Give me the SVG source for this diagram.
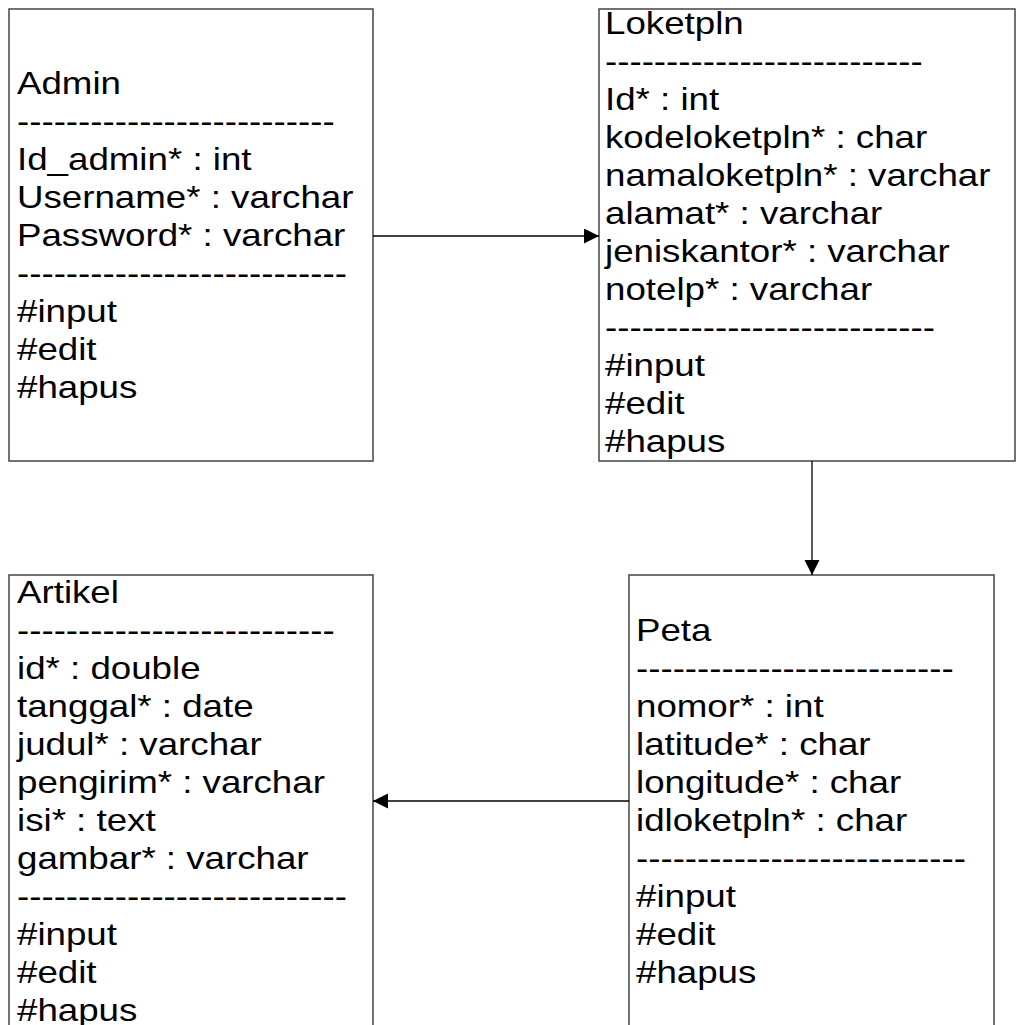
<svg xmlns="http://www.w3.org/2000/svg" width="1017" height="1025" viewBox="0 0 1017 1025">
<style>
.box{fill:#fff;stroke:#444;stroke-width:1.5}
.t{font-family:"Liberation Sans",Arial,sans-serif;font-size:31.5px;fill:#000}
.c{stroke:#000;stroke-width:1.3;fill:none}
</style>
<defs>
<marker id="ah" markerUnits="userSpaceOnUse" markerWidth="16" markerHeight="16" refX="15" refY="7.5" orient="auto">
<path d="M0,0 L15,7.5 L0,15 z" fill="#000"/>
</marker>
</defs>
<rect width="1017" height="1025" fill="#fff"/>
<g id="admin">
<rect class="box" x="9" y="9" width="364" height="452"/>
<text class="t" transform="translate(17,2) scale(1.165,1)">
<tspan x="0" y="92">Admin</tspan>
<tspan x="0" y="130">--------------------------</tspan>
<tspan x="0" y="168">Id_admin* : int</tspan>
<tspan x="0" y="206">Username* : varchar</tspan>
<tspan x="0" y="244">Password* : varchar</tspan>
<tspan x="0" y="282">---------------------------</tspan>
<tspan x="0" y="320">#input</tspan>
<tspan x="0" y="358">#edit</tspan>
<tspan x="0" y="396">#hapus</tspan>
</text>
</g>
<g id="loketpln">
<rect class="box" x="599" y="9" width="416" height="452"/>
<text class="t" transform="translate(605,1) scale(1.165,1)">
<tspan x="0" y="33">Loketpln</tspan>
<tspan x="0" y="71">--------------------------</tspan>
<tspan x="0" y="109">Id* : int</tspan>
<tspan x="0" y="147">kodeloketpln* : char</tspan>
<tspan x="0" y="185">namaloketpln* : varchar</tspan>
<tspan x="0" y="223">alamat* : varchar</tspan>
<tspan x="0" y="261">jeniskantor* : varchar</tspan>
<tspan x="0" y="299">notelp* : varchar</tspan>
<tspan x="0" y="337">---------------------------</tspan>
<tspan x="0" y="375">#input</tspan>
<tspan x="0" y="413">#edit</tspan>
<tspan x="0" y="451">#hapus</tspan>
</text>
</g>
<g id="artikel">
<rect class="box" x="9" y="575" width="364" height="470"/>
<text class="t" transform="translate(17,1) scale(1.165,1)">
<tspan x="0" y="602">Artikel</tspan>
<tspan x="0" y="640">--------------------------</tspan>
<tspan x="0" y="678">id* : double</tspan>
<tspan x="0" y="716">tanggal* : date</tspan>
<tspan x="0" y="754">judul* : varchar</tspan>
<tspan x="0" y="792">pengirim* : varchar</tspan>
<tspan x="0" y="830">isi* : text</tspan>
<tspan x="0" y="868">gambar* : varchar</tspan>
<tspan x="0" y="906">---------------------------</tspan>
<tspan x="0" y="944">#input</tspan>
<tspan x="0" y="982">#edit</tspan>
<tspan x="0" y="1020">#hapus</tspan>
</text>
</g>
<g id="peta">
<rect class="box" x="629" y="575" width="365" height="470"/>
<text class="t" transform="translate(636,1) scale(1.165,1)">
<tspan x="0" y="640">Peta</tspan>
<tspan x="0" y="678">--------------------------</tspan>
<tspan x="0" y="716">nomor* : int</tspan>
<tspan x="0" y="754">latitude* : char</tspan>
<tspan x="0" y="792">longitude* : char</tspan>
<tspan x="0" y="830">idloketpln* : char</tspan>
<tspan x="0" y="868">---------------------------</tspan>
<tspan x="0" y="906">#input</tspan>
<tspan x="0" y="944">#edit</tspan>
<tspan x="0" y="982">#hapus</tspan>
</text>
</g>
<g id="connectors">
<line class="c" x1="373" y1="236" x2="599" y2="236" marker-end="url(#ah)"/>
<line class="c" x1="812" y1="461" x2="812" y2="575" marker-end="url(#ah)"/>
<line class="c" x1="629" y1="801" x2="373" y2="801" marker-end="url(#ah)"/>
</g>
</svg>
